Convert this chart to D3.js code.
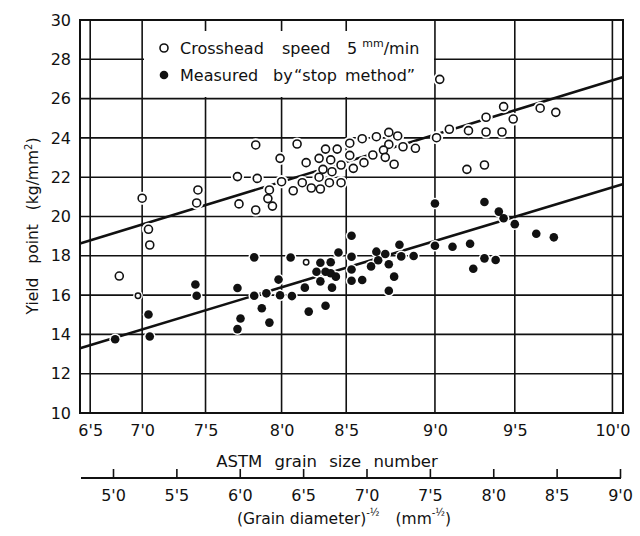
<!DOCTYPE html>
<html><head><meta charset="utf-8">
<script src="https://cdn.jsdelivr.net/npm/d3@7"></script>
<style>
html,body{margin:0;padding:0;background:#fff;}
svg{display:block;}
text{font-family:"DejaVu Sans",sans-serif;fill:#111;}
</style></head><body>
<svg id="chart" width="640" height="536"></svg>
<script>
// ---------- data ----------
const astmTicks = [6.5, 7.0, 7.5, 8.0, 8.5, 9.0, 9.5, 10.0];
const astmTickLabels = ["6'5", "7'0", "7'5", "8'0", "8'5", "9'0", "9'5", "10'0"];
// (grain diameter)^-1/2 value at which each ASTM grid line sits
const astmInGrainUnits = [4.82, 5.23, 5.73, 6.33, 6.84, 7.54, 8.17, 8.94];
const grainTicks = [5.0, 5.5, 6.0, 6.5, 7.0, 7.5, 8.0, 8.5, 9.0];
const grainTickLabels = ["5'0", "5'5", "6'0", "6'5", "7'0", "7'5", "8'0", "8'5", "9'0"];
const yTicks = [10, 12, 14, 16, 18, 20, 22, 24, 26, 28, 30];

// Crosshead speed 5 mm/min (open circles), x = ASTM grain size number
const openX = [6.78, 7.00, 7.05, 7.06, 7.44, 7.43, 7.71, 7.72, 7.83, 7.84, 7.83, 8.12, 7.99, 8.19, 8.34,
  8.43, 8.29, 8.38, 8.52, 8.59, 8.67, 8.74, 8.79, 8.74, 8.82, 8.71, 8.65, 8.72, 8.77, 8.60,
  8.52, 8.46, 8.54, 8.32, 8.39, 8.29, 8.37, 8.46, 8.30, 8.23, 8.16, 8.09, 8.00, 7.92, 7.91,
  7.94, 9.03, 9.43, 9.32, 9.49, 9.63, 9.71, 9.09, 9.21, 9.32, 9.42, 9.01, 8.89, 9.20, 9.31];
const openY = [16.97, 20.93, 19.35, 18.55, 21.35, 20.69, 22.03, 20.64, 23.64, 21.94, 20.33, 23.69, 22.96, 22.74, 23.43,
  23.43, 22.96, 22.88, 23.73, 23.96, 24.06, 24.28, 24.10, 23.67, 23.55, 23.38, 23.13, 23.01, 22.66, 22.74,
  23.11, 22.62, 22.45, 22.40, 22.28, 22.00, 21.72, 21.72, 21.40, 21.45, 21.72, 21.31, 21.77, 21.35, 20.91,
  20.53, 26.98, 25.59, 25.05, 24.96, 25.51, 25.30, 24.44, 24.37, 24.30, 24.30, 24.01, 23.47, 22.40, 22.62];
// two small open circles among the lower group
const smallOpenX = [6.96, 8.19];
const smallOpenY = [15.97, 17.67];

// Measured by "stop method" (filled circles)
const stopX = [6.74, 7.05, 7.06, 7.42, 7.43, 7.71, 7.73, 7.71, 7.82, 7.82, 7.87, 7.92, 7.90, 7.98, 7.99,
  8.07, 8.08, 8.18, 8.21, 8.34, 8.30, 8.38, 8.27, 8.34, 8.38, 8.42, 8.30, 8.39, 8.44, 8.53,
  8.53, 8.53, 8.53, 8.59, 8.64, 8.67, 8.68, 8.72, 8.74, 8.77, 8.74, 8.80, 8.81, 8.88, 9.00,
  9.11, 9.22, 9.24, 9.31, 9.38, 9.61, 9.70, 9.00, 9.31, 9.40, 9.43, 9.50];
const stopY = [13.75, 15.01, 13.89, 16.54, 15.97, 16.36, 14.81, 14.27, 17.92, 15.97, 15.33, 14.60, 16.09, 16.79, 15.99,
  17.91, 15.95, 16.38, 15.16, 15.46, 17.65, 17.67, 17.19, 17.19, 17.11, 16.94, 16.70, 16.38, 18.17, 19.02,
  17.95, 17.30, 16.73, 16.77, 17.46, 18.21, 17.77, 18.09, 17.57, 16.94, 16.22, 18.56, 17.97, 17.99, 18.51,
  18.46, 18.61, 17.34, 17.87, 17.79, 19.12, 18.94, 20.66, 20.74, 20.25, 19.91, 19.61];

// regression lines, x in (grain diameter)^-1/2 units
const openFitGrain = [4.74, 9.02];
const openFitYield = [18.62, 27.09];
const stopFitGrain = [4.74, 9.02];
const stopFitYield = [13.30, 21.64];

// ---------- drawing ----------
const svg = d3.select("#chart");
const L = 80, R = 623, T = 20, B = 413;
const INK = "#111";

const y = d3.scaleLinear().domain([10, 30]).range([B, T]);
const xGrain = d3.scaleLinear().domain([5, 9]).range([113, 620]);
const xAstm = d3.scaleLinear().domain(astmTicks).range(astmInGrainUnits.map(v => xGrain(v)));

// grid
const grid = svg.append("g");
grid.selectAll("line.h").data(yTicks.filter(v => v > 10 && v < 30)).join("line")
  .attr("class", "h")
  .attr("x1", L).attr("x2", R)
  .attr("y1", d => y(d)).attr("y2", d => y(d))
  .attr("stroke", INK).attr("stroke-width", 1.6);
grid.selectAll("line.v").data(astmTicks).join("line")
  .attr("class", "v")
  .attr("x1", d => xAstm(d)).attr("x2", d => xAstm(d))
  .attr("y1", T).attr("y2", B)
  .attr("stroke", INK).attr("stroke-width", 1.6);

// legend background (interrupts grid)
svg.append("rect").attr("x", 144).attr("y", 31).attr("width", 290).attr("height", 66).attr("fill", "#fff");

// frame
svg.append("rect").attr("x", L).attr("y", T).attr("width", R - L).attr("height", B - T)
  .attr("fill", "none").attr("stroke", INK).attr("stroke-width", 2);

// fit lines
const line = d3.line().x(d => xGrain(d[0])).y(d => y(d[1]));
svg.append("path").datum(d3.zip(openFitGrain, openFitYield)).attr("d", line)
  .attr("fill", "none").attr("stroke", INK).attr("stroke-width", 2.6);
svg.append("path").datum(d3.zip(stopFitGrain, stopFitYield)).attr("d", line)
  .attr("fill", "none").attr("stroke", INK).attr("stroke-width", 2.6);

const openPts = d3.zip(openX, openY);
const smallPts = d3.zip(smallOpenX, smallOpenY);
const stopPts = d3.zip(stopX, stopY);

// white halos
const halo = svg.append("g").attr("fill", "#fff");
halo.selectAll("circle.o").data(openPts).join("circle").attr("class", "o")
  .attr("cx", d => xAstm(d[0])).attr("cy", d => y(d[1])).attr("r", 6.6);
halo.selectAll("circle.s").data(smallPts).join("circle").attr("class", "s")
  .attr("cx", d => xAstm(d[0])).attr("cy", d => y(d[1])).attr("r", 4.8);
halo.selectAll("circle.f").data(stopPts).join("circle").attr("class", "f")
  .attr("cx", d => xAstm(d[0])).attr("cy", d => y(d[1])).attr("r", 5.8);

// markers
svg.append("g").selectAll("circle").data(openPts).join("circle")
  .attr("cx", d => xAstm(d[0])).attr("cy", d => y(d[1])).attr("r", 4)
  .attr("fill", "#fff").attr("stroke", INK).attr("stroke-width", 1.6);
svg.append("g").selectAll("circle").data(smallPts).join("circle")
  .attr("cx", d => xAstm(d[0])).attr("cy", d => y(d[1])).attr("r", 2.7)
  .attr("fill", "#fff").attr("stroke", INK).attr("stroke-width", 1.5);
svg.append("g").selectAll("circle").data(stopPts).join("circle")
  .attr("cx", d => xAstm(d[0])).attr("cy", d => y(d[1])).attr("r", 4.3)
  .attr("fill", INK);

// y axis labels
const yAxis = svg.append("g").attr("transform", `translate(${L},0)`)
  .call(d3.axisLeft(y).tickValues(yTicks).tickSize(0).tickPadding(9));
yAxis.select(".domain").remove();
yAxis.selectAll("text").attr("font-size", 16).attr("font-family", "DejaVu Sans").attr("fill", INK);

// top (ASTM) axis labels
const xTop = svg.append("g").attr("transform", `translate(0,${B})`)
  .call(d3.axisBottom(xAstm).tickValues(astmTicks).tickFormat((d, i) => astmTickLabels[i]).tickSize(0).tickPadding(12));
xTop.select(".domain").remove();
xTop.selectAll("text").attr("font-size", 16).attr("font-family", "DejaVu Sans").attr("fill", INK);

svg.append("text").attr("x", 327).attr("y", 467).attr("text-anchor", "middle")
  .attr("font-size", 16.5).attr("word-spacing", 7).text("ASTM grain size number");

// bottom (grain diameter) axis
const axisY = 478;
svg.append("line").attr("x1", 81).attr("x2", xGrain(9) + 1).attr("y1", axisY).attr("y2", axisY)
  .attr("stroke", INK).attr("stroke-width", 2);
const xBot = svg.append("g").attr("transform", `translate(0,${axisY})`)
  .call(d3.axisBottom(xGrain).tickValues(grainTicks).tickFormat((d, i) => grainTickLabels[i])
    .tickSizeInner(-9).tickSizeOuter(0).tickPadding(12));
xBot.select(".domain").remove();
xBot.selectAll("line").attr("stroke", INK).attr("stroke-width", 1.6);
xBot.selectAll("text").attr("font-size", 16).attr("font-family", "DejaVu Sans").attr("fill", INK);

const bt = svg.append("text").attr("x", 344).attr("y", 524).attr("text-anchor", "middle").attr("font-size", 15.5);
bt.append("tspan").text("(Grain diameter)");
bt.append("tspan").attr("font-size", 10).attr("dy", -8).text("-½");
bt.append("tspan").attr("dy", 8).attr("dx", 16).text("(mm");
bt.append("tspan").attr("font-size", 10).attr("dy", -8).text("-½");
bt.append("tspan").attr("dy", 8).text(")");

// y title
const yt = svg.append("text").attr("transform", "translate(38,226) rotate(-90)")
  .attr("text-anchor", "middle").attr("font-size", 15.5).attr("word-spacing", 9);
yt.append("tspan").text("Yield point (kg/mm");
yt.append("tspan").attr("font-size", 10).attr("dy", -6).text("2");
yt.append("tspan").attr("dy", 6).text(")");

// legend
svg.append("circle").attr("cx", 164).attr("cy", 48).attr("r", 4)
  .attr("fill", "#fff").attr("stroke", INK).attr("stroke-width", 1.6);
svg.append("circle").attr("cx", 164).attr("cy", 75).attr("r", 4.3).attr("fill", INK);
const l1 = svg.append("text").attr("y", 54).attr("font-size", 16);
l1.append("tspan").attr("x", 180).text("Crosshead");
l1.append("tspan").attr("x", 282).text("speed");
l1.append("tspan").attr("x", 347).text("5 ");
l1.append("tspan").attr("font-size", 11).attr("dy", -7).text("mm");
l1.append("tspan").attr("dy", 7).text("/min");
const l2 = svg.append("text").attr("y", 81).attr("font-size", 16);
l2.append("tspan").attr("x", 180).text("Measured");
l2.append("tspan").attr("x", 273).text("by");
l2.append("tspan").attr("x", 294).text("\u201Cstop");
l2.append("tspan").attr("x", 345).text("method\u201D");
</script>
</body></html>
